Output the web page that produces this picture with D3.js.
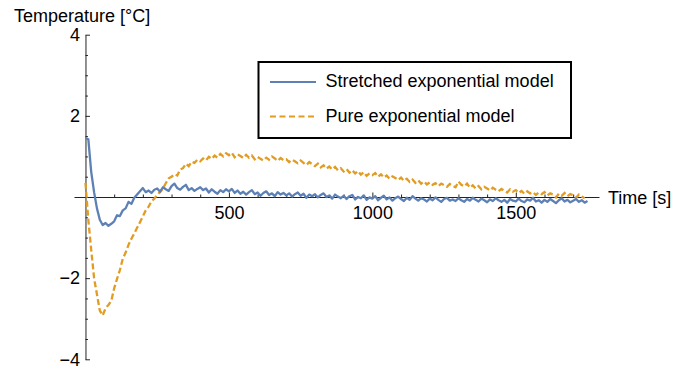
<!DOCTYPE html>
<html>
<head>
<meta charset="utf-8">
<script src="https://cdn.jsdelivr.net/npm/d3@7"></script>
<style>
  body { margin: 0; background: #fff; }
  svg { font-family: 'Liberation Sans', Arial, sans-serif; }
</style>
</head>
<body>
<div id="chart"></div>
<script>
const timeStep = 10;

const stretchedValues = [
  1.45, 1.42, 0.62, 0.12, -0.28, -0.56, -0.69, -0.64, -0.71, -0.66,
  -0.60, -0.45, -0.47, -0.33, -0.28, -0.12, -0.17, -0.02, 0.06, 0.14,
  0.22, 0.12, 0.16, 0.10, 0.18, 0.21, 0.13, 0.24, 0.19, 0.15,
  0.27, 0.33, 0.22, 0.18, 0.25, 0.30, 0.17, 0.22, 0.15, 0.20,
  0.24, 0.17, 0.21, 0.11, 0.19, 0.13, 0.08, 0.17, 0.12, 0.19,
  0.14, 0.20, 0.10, 0.16, 0.08, 0.13, 0.06, 0.12, 0.17, 0.07,
  0.11, 0.03, 0.10, 0.14, 0.05, 0.09, 0.02, 0.12, 0.06, 0.10,
  0.04, 0.09, 0.01, 0.07, 0.11, 0.03, 0.08, -0.02, 0.06, 0.02,
  0.07, -0.01, 0.05, 0.09, 0.00, 0.04, -0.04, 0.06, 0.01, -0.03,
  0.03, -0.05, 0.02, 0.05, -0.06, 0.00, -0.03, 0.04, -0.07, -0.01,
  -0.04, 0.02, -0.08, -0.02, 0.03, -0.06, -0.01, -0.09, -0.03, 0.01,
  -0.05, -0.10, -0.02, -0.07, 0.02, -0.04, -0.09, -0.03, -0.06, -0.11,
  -0.04, -0.08, -0.01, -0.07, -0.12, -0.05, -0.02, -0.09, -0.06, -0.10,
  -0.03, -0.08, -0.12, -0.05, -0.09, -0.02, -0.07, -0.11, -0.04, -0.08,
  -0.13, -0.06, -0.10, -0.03, -0.08, -0.12, -0.07, -0.14, -0.05, -0.09,
  -0.11, -0.04, -0.10, -0.13, -0.06, -0.09, -0.02, -0.11, -0.08, -0.14,
  -0.07, -0.12, -0.05, -0.10, -0.15, -0.08, -0.03, -0.11, -0.07, -0.13,
  -0.09, -0.05, -0.12, -0.08, -0.14, -0.10
];

const pureValues = [
  0.35, -0.57, -1.30, -2.00, -2.40, -2.80, -2.92, -2.74, -2.66, -2.56,
  -2.25, -2.02, -1.80, -1.52, -1.37, -1.18, -1.03, -0.90, -0.76, -0.62,
  -0.48, -0.33, -0.24, -0.10, -0.04, 0.06, 0.12, 0.21, 0.34, 0.46,
  0.50, 0.56, 0.53, 0.68, 0.71, 0.82, 0.76, 0.87, 0.84, 0.92,
  0.88, 0.95, 0.90, 0.99, 0.94, 1.02, 0.97, 1.06, 1.00, 1.08,
  1.03, 1.09, 0.98, 1.05, 1.01, 0.96, 1.04, 0.97, 1.02, 0.93,
  0.99, 0.94, 0.90, 0.97, 0.92, 1.00, 0.95, 0.89, 0.96, 0.91,
  0.93, 0.86, 0.92, 0.88, 0.83, 0.90, 0.84, 0.79, 0.86, 0.81,
  0.76, 0.82, 0.73, 0.78, 0.70, 0.75, 0.68, 0.74, 0.66, 0.71,
  0.63, 0.69, 0.60, 0.66, 0.58, 0.64, 0.55, 0.61, 0.52, 0.58,
  0.54, 0.59, 0.50, 0.56, 0.48, 0.53, 0.45, 0.51, 0.47, 0.42,
  0.48, 0.40, 0.45, 0.37, 0.43, 0.35, 0.41, 0.33, 0.38, 0.31,
  0.36, 0.30, 0.34, 0.27, 0.33, 0.29, 0.25, 0.32, 0.28, 0.24,
  0.38, 0.30, 0.26, 0.33, 0.23, 0.29, 0.21, 0.27, 0.19, 0.25,
  0.21, 0.16, 0.23, 0.18, 0.14, 0.20, 0.15, 0.11, 0.19, 0.13,
  0.17, 0.10, 0.15, 0.08, 0.14, 0.09, 0.12, 0.05, 0.11, 0.07,
  0.12, 0.04, 0.09, 0.06, -0.01, 0.08, 0.03, 0.10, 0.02, 0.07,
  0.04, -0.02, 0.06, 0.01, -0.03
];

const xMajorTicks = [500, 1000, 1500];
const yMajorTicks = [-4, -2, 2, 4];
const seriesNames = ['Stretched exponential model', 'Pure exponential model'];
const seriesColors = ['#5E81B5', '#E19C24'];

const width = 685;
const height = 369;

const svg = d3.select('#chart')
  .append('svg')
  .attr('width', width)
  .attr('height', height);

const x = d3.scaleLinear()
  .domain([-40, 1790])
  .range([74, 599]);

const y = d3.scaleLinear()
  .domain([-4, 4])
  .range([359.3, 34.7]);

const axisColor = '#222';

// x axis (ticks point up, labels below)
const xMinor = d3.range(100, 1800, 100).filter(d => !xMajorTicks.includes(d));

const xAxisG = svg.append('g')
  .attr('transform', `translate(0,${y(0)})`);

xAxisG.append('g')
  .call(d3.axisBottom(x).tickValues(xMinor).tickSizeInner(-2.5).tickSizeOuter(0).tickFormat(''))
  .call(g => g.select('.domain').remove());

xAxisG.append('g')
  .call(d3.axisBottom(x).tickValues(xMajorTicks).tickSizeInner(-4.5).tickSizeOuter(0).tickPadding(9)
    .tickFormat(d3.format('d')))
  .style('font-size', '18px')
  .style('font-family', "'Liberation Sans', Arial, sans-serif");

// y axis (ticks point right, labels left)
const yMinor = d3.range(-4, 4.01, 0.5).filter(d => d !== 0 && !yMajorTicks.includes(d));

const yAxisG = svg.append('g')
  .attr('transform', `translate(${x(0)},0)`);

yAxisG.append('g')
  .call(d3.axisLeft(y).tickValues(yMinor).tickSizeInner(-2.5).tickSizeOuter(0).tickFormat(''))
  .call(g => g.select('.domain').remove());

yAxisG.append('g')
  .call(d3.axisLeft(y).tickValues(yMajorTicks).tickSizeInner(-4.5).tickSizeOuter(0).tickPadding(5.5)
    .tickFormat(d => d < 0 ? '\u2212' + Math.abs(d) : d))
  .style('font-size', '18px')
  .style('font-family', "'Liberation Sans', Arial, sans-serif");

svg.selectAll('.domain, .tick line')
  .attr('stroke', axisColor)
  .attr('stroke-width', 1);

svg.selectAll('.tick text')
  .attr('fill', '#000');

// axis labels
svg.append('text')
  .attr('x', 14)
  .attr('y', 22)
  .attr('font-size', '18px')
  .attr('fill', '#000')
  .text('Temperature [°C]');

svg.append('text')
  .attr('x', 608)
  .attr('y', y(0) + 6.5)
  .attr('font-size', '18px')
  .attr('fill', '#000')
  .text('Time [s]');

// series
const line = d3.line()
  .x((d, i) => x(i * timeStep))
  .y(d => y(d));

svg.append('path')
  .datum(pureValues)
  .attr('d', line)
  .attr('fill', 'none')
  .attr('stroke', seriesColors[1])
  .attr('stroke-width', 2.3)
  .attr('stroke-dasharray', '6,3');

svg.append('path')
  .datum(stretchedValues)
  .attr('d', line)
  .attr('fill', 'none')
  .attr('stroke', seriesColors[0])
  .attr('stroke-width', 2.3)
  .attr('stroke-linejoin', 'round');

// legend
const legend = svg.append('g');

legend.append('rect')
  .attr('x', 258.5)
  .attr('y', 62)
  .attr('width', 312.5)
  .attr('height', 76)
  .attr('fill', '#fff')
  .attr('stroke', '#000')
  .attr('stroke-width', 2);

seriesNames.forEach((name, i) => {
  const ly = 82 + i * 34.5;
  legend.append('line')
    .attr('x1', 270)
    .attr('x2', 316)
    .attr('y1', ly)
    .attr('y2', ly)
    .attr('stroke', seriesColors[i])
    .attr('stroke-width', 2)
    .attr('stroke-dasharray', i === 1 ? '6,3.5' : null);

  legend.append('text')
    .attr('x', 325.5)
    .attr('y', ly + 5)
    .attr('font-size', '18px')
    .attr('fill', '#000')
    .text(name);
});
</script>
</body>
</html>
